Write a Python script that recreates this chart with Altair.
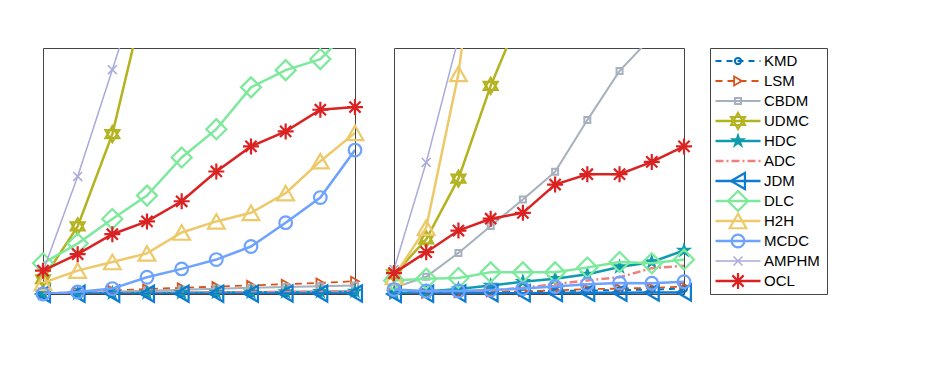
import altair as alt
import pandas as pd

series = ["KMD", "LSM", "CBDM", "UDMC", "HDC", "ADC", "JDM", "DLC", "H2H", "MCDC", "AMPHM", "OCL"]
colors = ["#0072BD", "#D95319", "#A6B0BE", "#B3B21F", "#0E9BAE", "#F08080",
          "#0D7BCF", "#7DE99C", "#EDC96A", "#6EA2FF", "#A9A9DB", "#DB2222"]
filled = [False, False, False, False, True, False, False, False, False, False, False, False]
dashes = [[6, 5], [7, 5], None, None, None, [8, 3, 2, 3], None, None, None, None, None, None]
widths = [2, 1.8, 2, 2.5, 2.5, 2.5, 2.5, 2.5, 2.5, 2.5, 1.5, 2.5]
HEXAGRAM = "M0,-1L0.866,0.5L-0.866,0.5Z M0,1L-0.866,-0.5L0.866,-0.5Z"
PENTAGRAM = ("M0,-1L0.225,-0.309L0.951,-0.309L0.363,0.118L0.588,0.809L0,0.382"
             "L-0.588,0.809L-0.363,0.118L-0.951,-0.309L-0.225,-0.309Z")
XMARK = "M-1,-1L1,1M-1,1L1,-1"
ASTERISK = "M0,-1L0,1M-1,0L1,0M-0.7,-0.7L0.7,0.7M-0.7,0.7L0.7,-0.7"
HLINE = "M-1,0L1,0"
shapes = ["circle", "triangle-right", "square", HEXAGRAM, PENTAGRAM, None,
          "triangle-left", "diamond", "triangle-up", "circle", XMARK, ASTERISK]
sizes = [38, 80, 36, 256, 300, 0, 256, 400, 280, 160, 80, 256]

x_vals = [1, 2, 3, 4, 5, 6, 7, 8, 9, 10]

# Panel 1: No. of Samples n (x10000)
samples = {
    "KMD":   [1, 1, 2, 2, 3, 3, 4, 4, 5, 5],
    "LSM":   [3, 8, 14, 20, 25, 30, 35, 40, 45, 52],
    "CBDM":  [2, 5, 9, 13, 17, 21, 25, 28, 31, 35],
    "UDMC":  [60, 275, 650, 1240],
    "HDC":   [1, 2, 3, 4, 5, 6, 7, 8, 9, 10],
    "ADC":   [1, 2, 3, 4, 5, 6, 7, 8, 9, 10],
    "JDM":   [0, 1, 1, 1, 1, 1, 1, 2, 2, 2],
    "DLC":   [125, 205, 305, 400, 555, 670, 840, 910, 955, 1095],
    "H2H":   [45, 95, 130, 165, 250, 295, 330, 410, 540, 655],
    "MCDC":  [0, 8, 22, 68, 102, 140, 193, 290, 392, 585],
    "AMPHM": [92, 478, 912, 1350],
    "OCL":   [95, 162, 243, 295, 377, 498, 600, 661, 749, 760],
}

# Panel 2: No. of Attributes d (x1000)
attributes = {
    "KMD":   [2, 4, 6, 8, 10, 12, 14, 16, 18, 22],
    "LSM":   [1, 3, 5, 8, 10, 15, 20, 22, 25, 30],
    "CBDM":  [25, 70, 167, 276, 384, 497, 707, 907, 1045],
    "UDMC":  [80, 222, 469, 846, 1160],
    "HDC":   [3, 10, 20, 35, 50, 62, 80, 110, 130, 177],
    "ADC":   [0, 3, 8, 15, 25, 40, 55, 68, 105, 115],
    "JDM":   [0, 1, 2, 3, 3, 4, 5, 5, 6, 6],
    "DLC":   [55, 62, 65, 88, 88, 88, 108, 130, 125, 140],
    "H2H":   [70, 270, 895, 1900],
    "MCDC":  [18, 12, 12, 16, 22, 30, 40, 45, 44, 50],
    "AMPHM": [100, 535, 1040],
    "OCL":   [85, 170, 258, 306, 330, 445, 487, 487, 537, 600],
}

y_ticks = [0, 200, 400, 600, 800, 1000]
x_ticks = [1, 4, 7, 10]

FONT = "Liberation Sans"
AX = "#262626"
GRID = "#b8b8b8"


def to_frame(d):
    rows = []
    for s in series:
        for xv, v in zip(x_vals, d[s]):
            rows.append({"series": s, "x": xv, "y": v})
    return pd.DataFrame(rows)


def line_props(i):
    p = dict(clip=True, color=colors[i], strokeWidth=widths[i])
    if dashes[i] is not None:
        p["strokeDash"] = dashes[i]
    return p


def point_props(i):
    return dict(shape=shapes[i], size=sizes[i], filled=filled[i], color=colors[i],
                strokeWidth=min(widths[i], 2.2), opacity=1)


def panel(d, xtitle, ylabpad, width):
    df = to_frame(d)
    xs = alt.Scale(domain=[1, 10], nice=False, zero=False)
    ys = alt.Scale(domain=[0, 1000], nice=False, zero=False)
    base = alt.Chart(df)
    layers = []
    for i, s in enumerate(series):
        sub = base.transform_filter(alt.datum.series == s)
        if i == 0:
            xe = alt.X("x:Q", scale=xs, axis=alt.Axis(values=x_ticks, title=xtitle, grid=True, domain=False,
                                                      ticks=False, labelPadding=10, titlePadding=1, format="d"))
            ye = alt.Y("y:Q", scale=ys, axis=alt.Axis(values=y_ticks, title="Execution time (s)", grid=True,
                                                      domain=False, ticks=False, labelPadding=ylabpad,
                                                      titlePadding=1, format="d"))
        else:
            xe = alt.X("x:Q", scale=xs, axis=None)
            ye = alt.Y("y:Q", scale=ys, axis=None)
        layers.append(sub.mark_line(**line_props(i)).encode(x=xe, y=ye, order=alt.Order("x:Q")))
        if shapes[i] is not None:
            layers.append(
                sub.transform_filter(alt.datum.y <= 1000).mark_point(**point_props(i)).encode(
                    x=alt.X("x:Q", scale=xs, axis=None), y=alt.Y("y:Q", scale=ys, axis=None))
            )
    return alt.layer(*layers).properties(width=width, height=246)


left = panel(samples, "No. of Samples n (\u2009\u00d7\u200910000)", 8, 312)
right = panel(attributes, "No. of Attributes d (\u2009\u00d7\u20091000)", 12, 290)

leg_df = pd.DataFrame({"series": series})
ly_scale = alt.Scale(type="point", domain=series, padding=0.65)
leg_layers = []
for i, s in enumerate(series):
    sub = alt.Chart(leg_df).transform_filter(alt.datum.series == s)
    lp = dict(shape=HLINE, size=2025, filled=False, color=colors[i], strokeWidth=widths[i], opacity=1)
    if dashes[i] is not None:
        lp["strokeDash"] = dashes[i]
    leg_layers.append(sub.mark_point(**lp).encode(
        x=alt.value(28), y=alt.Y("series:N", scale=ly_scale, axis=None)))
    if shapes[i] is not None:
        leg_layers.append(sub.mark_point(**point_props(i)).encode(
            x=alt.value(28), y=alt.Y("series:N", scale=ly_scale, axis=None)))
leg_layers.append(
    alt.Chart(leg_df).mark_text(align="left", baseline="middle", fontSize=15, font=FONT,
                                color="#000000").encode(
        x=alt.value(54), y=alt.Y("series:N", scale=ly_scale, axis=None), text="series:N")
)
legend = alt.layer(*leg_layers).properties(
    width=117, height=246, title=alt.TitleParams(" ", fontSize=2, offset=5))

chart = alt.hconcat(left, right, legend, spacing=10).properties(
    padding={"left": 20, "top": 32, "right": 5, "bottom": 5}
).configure_axis(
    labelFont=FONT, titleFont=FONT, labelFontSize=16, titleFontSize=17.5,
    labelColor=AX, titleColor=AX,
    gridColor=GRID, gridWidth=1, titleFontWeight="normal",
).configure_view(stroke="#444444", strokeWidth=1)

chart.save("out.html", embed_options={"renderer": "svg", "actions": False})
